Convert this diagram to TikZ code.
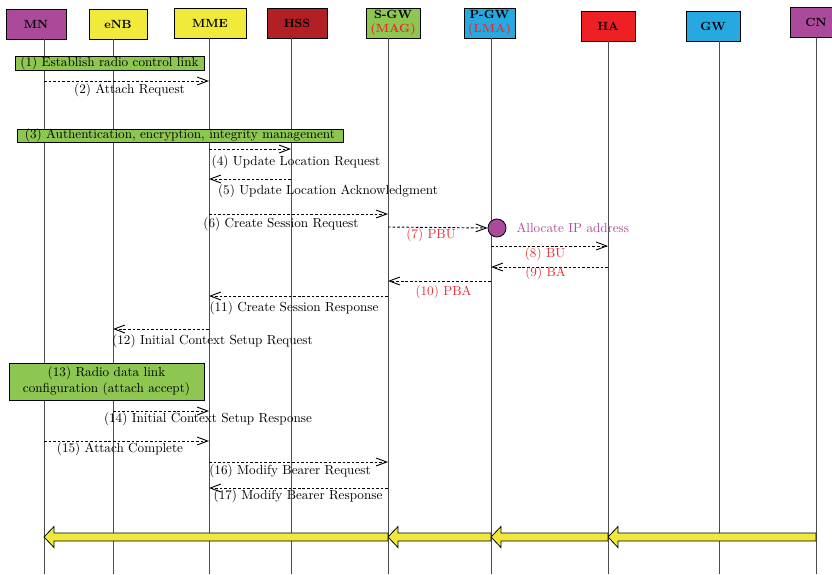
\documentclass[tikz,border=0pt]{standalone}
\usepackage{tikz}
\usetikzlibrary{positioning}
\usetikzlibrary{calc}
\usetikzlibrary{arrows.meta}

\definecolor{mnpurple}{RGB}{171,73,155}
\definecolor{hdyellow}{RGB}{240,234,58}
\definecolor{hssred}{RGB}{178,32,38}
\definecolor{stepgreen}{RGB}{141,198,80}
\definecolor{pgwblue}{RGB}{38,169,224}
\definecolor{hared}{RGB}{238,32,36}
\definecolor{tagred}{RGB}{235,45,50}
\definecolor{allocpurple}{RGB}{176,74,156}
\definecolor{arrowyellow}{RGB}{240,232,58}

\newcommand{\bigarrow}[2]{%
  \draw[bigarrow] ($(#1)+(0,-4)$) -- ($(#2)+(10,-4)$) -- ($(#2)+(10,-10.5)$) -- (#2)
    -- ($(#2)+(10,10.5)$) -- ($(#2)+(10,4)$) -- ($(#1)+(0,4)$) -- cycle;}

\begin{document}
\begin{tikzpicture}[
    x=0.76pt, y=-0.76pt,
    entity/.style={draw=black, line width=0.7pt, inner sep=0pt, outer sep=0pt,
      minimum height=22.8pt, font=\small\bfseries, align=center},
    lifeline/.style={draw=black!70, line width=0.7pt},
    msg/.style={draw=black, line width=0.7pt, dash pattern=on 2pt off 1.5pt,
      -{Straight Barb[length=8pt,width=6pt]}},
    lbl/.style={inner sep=0pt},
    redlbl/.style={lbl, text=tagred},
    stepbox/.style={draw=black, line width=0.6pt, fill=stepgreen, inner sep=0pt, align=center},
    bigarrow/.style={draw=black, line width=0.6pt, fill=arrowyellow},
  ]
  \useasboundingbox (0,0) rectangle (832,574);

  % entities
  \node[entity, fill=mnpurple, minimum width=45.6pt] (mn) at (36,24) {MN};
  \node[entity, fill=hdyellow, minimum width=44.1pt] (enb) at (118,24) {eNB};
  \node[entity, fill=hdyellow, minimum width=54.7pt] (mme) at (210,23) {MME};
  \node[entity, fill=hssred, minimum width=45.6pt] (hss) at (297,23) {HSS};
  \node[entity, fill=stepgreen, minimum width=41pt] (sgw) at (393,23) {S-GW\\\textcolor{tagred}{(MAG)}};
  \node[entity, fill=pgwblue, minimum width=38.8pt] (pgw) at (489.5,23) {P-GW\\\textcolor{tagred}{(LMA)}};
  \node[entity, fill=hared, minimum width=41pt] (ha) at (608,26) {HA};
  \node[entity, fill=pgwblue, minimum width=41pt] (gw) at (713,26) {GW};
  \node[entity, fill=mnpurple, minimum width=39.5pt] (cn) at (816,22.5) {CN};

  % lifelines
  \coordinate (mnL) at (44,574);
  \coordinate (enbL) at (113,574);
  \coordinate (mmeL) at (209,574);
  \coordinate (hssL) at (291,574);
  \coordinate (sgwL) at (388,574);
  \coordinate (pgwL) at (491,574);
  \coordinate (haL) at (608,574);
  \coordinate (gwL) at (719,574);
  \coordinate (cnL) at (816,574);

  \draw[lifeline] (mnL |- mn.south) -- (mnL);
  \draw[lifeline] (enbL |- enb.south) -- (enbL);
  \draw[lifeline] (mmeL |- mme.south) -- (mmeL);
  \draw[lifeline] (hssL |- hss.south) -- (hssL);
  \draw[lifeline] (sgwL |- sgw.south) -- (sgwL);
  \draw[lifeline] (pgwL |- pgw.south) -- (pgwL);
  \draw[lifeline] (haL |- ha.south) -- (haL);
  \draw[lifeline] (gwL |- gw.south) -- (gwL);
  \draw[lifeline] (cnL |- cn.south) -- (cnL);

  % attach procedure
  \node[stepbox, minimum width=143.6pt, minimum height=10.6pt] (s1) at (109.5,63) {(1) Establish radio control link};
  \draw[msg] (mnL |- 0,81) -- (mmeL |- 0,81);
  \node[lbl] (m2) at (129.5,90) {(2) Attach Request};

  \node[stepbox, minimum width=247.8pt, minimum height=9.9pt] (s3) at (180,135.5) {(3) Authentication, encryption, integrity management};
  \draw[msg] (mmeL |- 0,149) -- (hssL |- 0,149);
  \node[lbl] (m4) at (296,162) {(4) Update Location Request};
  \draw[msg] (hssL |- 0,179) -- (mmeL |- 0,179);
  \node[lbl] (m5) at (328,191) {(5) Update Location Acknowledgment};
  \draw[msg] (mmeL |- 0,214) -- (sgwL |- 0,214);
  \node[lbl] (m6) at (281,224) {(6) Create Session Request};

  % proxy binding
  \node[circle, draw=black, line width=0.6pt, fill=mnpurple, minimum size=13.7pt, inner sep=0pt] (alloc) at (497,228) {};
  \node[lbl, text=allocpurple, right=7.5pt of alloc] (allocL) {Allocate IP address};
  \draw[msg] (sgwL |- 0,227) -- (alloc.west);
  \node[redlbl] (m7) at (431,235) {(7) PBU};
  \draw[msg] (pgwL |- 0,246) -- (haL |- 0,246);
  \node[redlbl] (m8) at (545,254) {(8) BU};
  \draw[msg] (haL |- 0,267) -- (pgwL |- 0,267);
  \node[redlbl] (m9) at (545.5,273) {(9) BA};
  \draw[msg] (pgwL |- 0,281) -- (sgwL |- 0,281);
  \node[redlbl] (m10) at (443.5,292) {(10) PBA};

  \draw[msg] (sgwL |- 0,296) -- (mmeL |- 0,296);
  \node[lbl] (m11) at (294,308) {(11) Create Session Response};
  \draw[msg] (mmeL |- 0,329) -- (enbL |- 0,329);
  \node[lbl] (m12) at (212.5,341) {(12) Initial Context Setup Request};

  \node[stepbox, minimum width=148.2pt, minimum height=28pt] (s13) at (106.5,381.5) {(13) Radio data link\\configuration (attach accept)};
  \draw[msg] (enbL |- 0,411) -- (mmeL |- 0,411);
  \node[lbl] (m14) at (208,419) {(14) Initial Context Setup Response};
  \draw[msg] (mnL |- 0,441) -- (mmeL |- 0,441);
  \node[lbl] (m15) at (120,449) {(15) Attach Complete};
  \draw[msg] (mmeL |- 0,462) -- (sgwL |- 0,462);
  \node[lbl] (m16) at (290,471) {(16) Modify Bearer Request};
  \draw[msg] (sgwL |- 0,488) -- (mmeL |- 0,488);
  \node[lbl] (m17) at (298,496) {(17) Modify Bearer Response};

  % data path
  \path (cnL |- 0,537) coordinate (dCN);
  \path (haL |- 0,537) coordinate (dHA);
  \path (pgwL |- 0,537) coordinate (dPGW);
  \path (sgwL |- 0,537) coordinate (dSGW);
  \path (mnL |- 0,537) coordinate (dMN);
  \bigarrow{dCN}{dHA}
  \bigarrow{dHA}{dPGW}
  \bigarrow{dPGW}{dSGW}
  \bigarrow{dSGW}{dMN}

\end{tikzpicture}
\end{document}
